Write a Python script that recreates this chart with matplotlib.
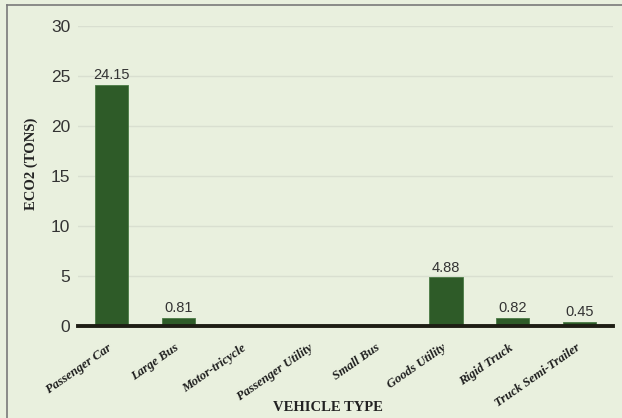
import matplotlib
matplotlib.use("Agg")
import matplotlib.pyplot as plt
from matplotlib.lines import Line2D
from matplotlib.transforms import ScaledTranslation

categories = ["Passenger Car", "Large Bus", "Motor-tricycle", "Passenger Utility",
              "Small Bus", "Goods Utility", "Rigid Truck", "Truck Semi-Trailer"]
values = [24.15, 0.81, 0, 0, 0, 4.88, 0.82, 0.45]
value_labels = ["24.15", "0.81", "", "", "", "4.88", "0.82", "0.45"]
yticks = [0, 5, 10, 15, 20, 25, 30]

BG = "#E9F0DE"
BAR = "#2E5B28"
NUM_FONT = ["Liberation Sans", "DejaVu Sans"]
SERIF = ["Liberation Serif", "DejaVu Serif"]

W, H = 622, 418
fig = plt.figure(figsize=(W / 100, H / 100), dpi=100, facecolor=BG)
ax = fig.add_axes([78 / W, 1 - 326 / H, (613 - 78) / W, (326 - 26) / H])
ax.set_facecolor(BG)

x = list(range(len(categories)))
ax.bar(x, values, width=0.5, color=BAR, edgecolor="#4A7A44", linewidth=0.6, zorder=3)

for xi, v, lab in zip(x, values, value_labels):
    if lab:
        ax.text(xi, v + 0.25, lab, ha="center", va="bottom", fontsize=10.5,
                color="#333333", family=NUM_FONT, zorder=4)

ax.set_xlim(-0.5, len(categories) - 0.5)
ax.set_ylim(0, 30)
ax.set_yticks(yticks)
ax.set_yticklabels([str(t) for t in yticks], family=NUM_FONT, fontsize=12.5, color="#333333")
ax.yaxis.grid(True, color="#D9DFD0", linewidth=1.0, zorder=0)
ax.tick_params(axis="y", length=0, pad=5.5)
ax.tick_params(axis="x", length=0, pad=11.5)

ax.set_xticks(x)
ax.set_xticklabels(categories, rotation=35, ha="right", rotation_mode="anchor",
                   family=SERIF, fontweight="bold", fontstyle="italic",
                   fontsize=9.2, color="#1E1E1E")
shift = ScaledTranslation(-4 / 100, 0, fig.dpi_scale_trans)
for lbl in ax.get_xticklabels():
    lbl.set_transform(lbl.get_transform() + shift)

for side in ["top", "right", "left"]:
    ax.spines[side].set_visible(False)
ax.spines["bottom"].set_color("#1E1E14")
ax.spines["bottom"].set_linewidth(2.8)
ax.spines["bottom"].set_zorder(5)

fig.text(31 / W, 1 - 164 / H, "ECO2 (TONS)", rotation=90, ha="center", va="center",
         family=SERIF, fontweight="bold", fontsize=10.5, color="#222222")
fig.text(328 / W, 1 - 407.5 / H, "VEHICLE TYPE", ha="center", va="center",
         family=SERIF, fontweight="bold", fontsize=10.5, color="#222222")

# frame edges on the left and top
fig.add_artist(Line2D([6.5 / W, 6.5 / W], [0, 1 - 5 / H], transform=fig.transFigure,
                      color="#7A7A7A", linewidth=1.2))
fig.add_artist(Line2D([6.5 / W, 1], [1 - 5 / H, 1 - 5 / H], transform=fig.transFigure,
                      color="#7A7A7A", linewidth=1.2))

fig.savefig("out.png", dpi=100, facecolor=BG)
